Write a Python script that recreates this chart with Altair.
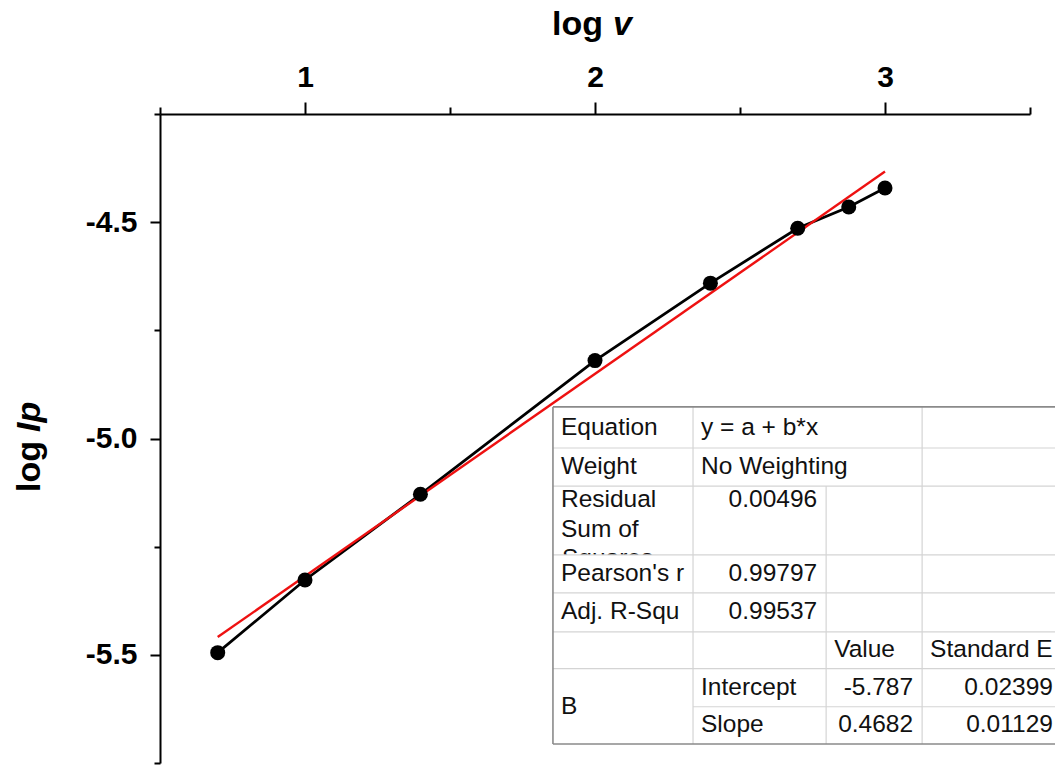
import altair as alt
import pandas as pd

# ---- data ----
log_v = [0.699, 1.0, 1.398, 2.0, 2.398, 2.699, 2.875, 3.0]
log_ip = [-5.495, -5.327, -5.129, -4.820, -4.641, -4.514, -4.465, -4.421]
fit_x = [0.699, 3.0]
fit_y = [-5.459, -4.383]

x_ticks = [0.5, 1.0, 1.5, 2.0, 2.5, 3.0, 3.5]
y_ticks = [-5.75, -5.5, -5.25, -5.0, -4.75, -4.5, -4.25]

# ---- fit-report table (content) ----
left_text = ["Equation", "Weight", "Residual", "Sum of", "Pearson's r", "Adj. R-Squ", "B",
             "y = a + b*x", "No Weighting", "Intercept", "Slope", "Value", "Standard E"]
left_col = [0, 0, 0, 0, 0, 0, 0, 1, 1, 1, 1, 2, 3]
left_row = [0, 1, 2, 3, 5, 6, 10, 0, 1, 8, 9, 7, 7]
right_text = ["0.00496", "0.99797", "0.99537", "-5.787", "0.4682", "0.02399", "0.01129"]
right_col = [1, 1, 1, 2, 2, 3, 3]
right_row = [2, 5, 6, 8, 9, 8, 9]

# ---- table layout (in plot units) ----
col_edges = [1.855, 2.338, 2.797, 3.128, 3.61]
row_edges = [-4.927, -5.022, -5.110, -5.269, -5.357, -5.447, -5.532, -5.620, -5.706]
line_y = [-4.9746, -5.0658, -5.142, -5.2113, -5.2775, -5.3129, -5.4018, -5.4896,
          -5.5762, -5.6628, -5.6201]

FONT = "Liberation Sans"

x_scale = alt.Scale(domain=[0.5, 3.5], nice=False, zero=False)
y_scale = alt.Scale(domain=[-5.75, -4.25], nice=False, zero=False)

x_axis = alt.Axis(
    orient="top", values=x_ticks, title=None, grid=False,
    labelExpr="datum.value % 1 === 0 ? format(datum.value, 'd') : ''",
    labelFont=FONT, labelFontSize=30, labelFontWeight="bold", labelColor="black",
    labelPadding=10, domainColor="black", domainWidth=2, tickColor="black", tickWidth=2,
    tickSize={"condition": {"test": "datum.value % 1 === 0", "value": 12}, "value": 7},
    labelFlush=False, labelOverlap=False,
)
y_axis = alt.Axis(
    orient="left", values=y_ticks, title=None, grid=False,
    labelExpr="datum.value % 0.5 === 0 ? replace(format(datum.value, '.1f'), '\u2212', '-') : ''",
    labelFont=FONT, labelFontSize=30, labelFontWeight="bold", labelColor="black",
    labelPadding=13, domainColor="black", domainWidth=2, tickColor="black", tickWidth=2,
    tickSize={"condition": {"test": "datum.value % 0.5 === 0", "value": 10}, "value": 6},
    labelFlush=False, labelOverlap=False,
)

pts = pd.DataFrame({"x": log_v, "y": log_ip})
fit = pd.DataFrame({"x": fit_x, "y": fit_y})

X = lambda f="x": alt.X(f"{f}:Q", scale=x_scale, axis=x_axis)
Y = lambda f="y": alt.Y(f"{f}:Q", scale=y_scale, axis=y_axis)

data_line = alt.Chart(pts).mark_line(color="black", strokeWidth=2.8).encode(x=X(), y=Y())
data_pts = alt.Chart(pts).mark_circle(color="black", opacity=1, size=225).encode(x=X(), y=Y())
fit_line = alt.Chart(fit).mark_line(color="#ee1111", strokeWidth=2.4).encode(x=X(), y=Y())

# table background
bg = alt.Chart(pd.DataFrame({"x": [col_edges[0]], "x2": [col_edges[-1]],
                             "y": [row_edges[0]], "y2": [row_edges[-1]]})).mark_rect(
    fill="white", stroke=None).encode(x=X(), x2="x2", y=Y(), y2="y2")

squares = alt.Chart(pd.DataFrame({"x": [col_edges[0]], "y": [line_y[4]], "t": ["Squares"]})).mark_text(
    align="left", baseline="middle", dx=9, font=FONT, fontSize=24.5, color="#111").encode(
    x=X(), y=Y(), text="t:N")
cover = alt.Chart(pd.DataFrame({"x": [col_edges[0]], "x2": [col_edges[1]],
                                "y": [row_edges[3]], "y2": [row_edges[4]]})).mark_rect(
    fill="white").encode(x=X(), x2="x2", y=Y(), y2="y2")

# grid lines of the table
h_x, h_x2, h_y = [], [], []
for i in [1, 2, 3, 4, 5, 6]:
    h_x.append(col_edges[0]); h_x2.append(col_edges[-1]); h_y.append(row_edges[i])
h_x.append(col_edges[1]); h_x2.append(col_edges[-1]); h_y.append(row_edges[7])
hlines = alt.Chart(pd.DataFrame({"x": h_x, "x2": h_x2, "y": h_y})).mark_rule(
    color="#d4d4d4", strokeWidth=1.2).encode(x=X(), x2="x2", y=Y())
v_x = [col_edges[1], col_edges[2], col_edges[3]]
v_y = [row_edges[0], row_edges[2], row_edges[0]]
v_y2 = [row_edges[-1]] * 3
vlines = alt.Chart(pd.DataFrame({"x": v_x, "y": v_y, "y2": v_y2})).mark_rule(
    color="#d4d4d4", strokeWidth=1.2).encode(x=X(), y=Y(), y2="y2")
border = alt.Chart(pd.DataFrame({
    "x": [col_edges[0], col_edges[0], col_edges[0]],
    "x2": [col_edges[-1], col_edges[0], col_edges[-1]],
    "y": [row_edges[0], row_edges[0], row_edges[-1]],
    "y2": [row_edges[0], row_edges[-1], row_edges[-1]]})).mark_rule(
    color="#8a8a8a", strokeWidth=1.6).encode(x=X(), x2="x2", y=Y(), y2="y2")

lt = pd.DataFrame({"t": left_text, "x": [col_edges[c] for c in left_col],
                   "y": [line_y[r] for r in left_row]})
rt = pd.DataFrame({"t": right_text, "x": [col_edges[c + 1] for c in right_col],
                   "y": [line_y[r] for r in right_row]})
ltext = alt.Chart(lt).mark_text(align="left", baseline="middle", dx=8, font=FONT,
                               fontSize=24.5, color="#111").encode(x=X(), y=Y(), text="t:N")
rtext = alt.Chart(rt).mark_text(align="right", baseline="middle", dx=-9, font=FONT,
                               fontSize=24.5, color="#111").encode(x=X(), y=Y(), text="t:N")

# axis titles with mixed italics
tdf = pd.DataFrame({"a": [0]})
t_log_x = alt.Chart(tdf).mark_text(align="left", baseline="alphabetic", font=FONT, fontSize=34,
                                   fontWeight="bold", text="log").encode(
    x=alt.value(392), y=alt.value(-79))
t_v = alt.Chart(tdf).mark_text(align="left", baseline="alphabetic", font=FONT, fontSize=34,
                               fontWeight="bold", fontStyle="italic", text="v").encode(
    x=alt.value(453), y=alt.value(-79))
t_log_y = alt.Chart(tdf).mark_text(align="left", baseline="alphabetic", font=FONT, fontSize=34,
                                   fontWeight="bold", angle=270, text="log").encode(
    x=alt.value(-120), y=alt.value(378))
t_ip = alt.Chart(tdf).mark_text(align="left", baseline="alphabetic", font=FONT, fontSize=34,
                                fontWeight="bold", fontStyle="italic", angle=270, text="Ip").encode(
    x=alt.value(-120), y=alt.value(318))

chart = alt.layer(
    data_line, fit_line, data_pts,
    bg, squares, cover, hlines, vlines, border, ltext, rtext,
    t_log_x, t_v, t_log_y, t_ip,
).properties(
    width=870, height=649,
    padding={"left": 160, "top": 114, "right": 25, "bottom": 4},
    autosize=alt.AutoSizeParams(type="none"),
    background="white",
).configure_view(stroke=None)

chart.save("out.html", embed_options={"renderer": "svg", "actions": False})
